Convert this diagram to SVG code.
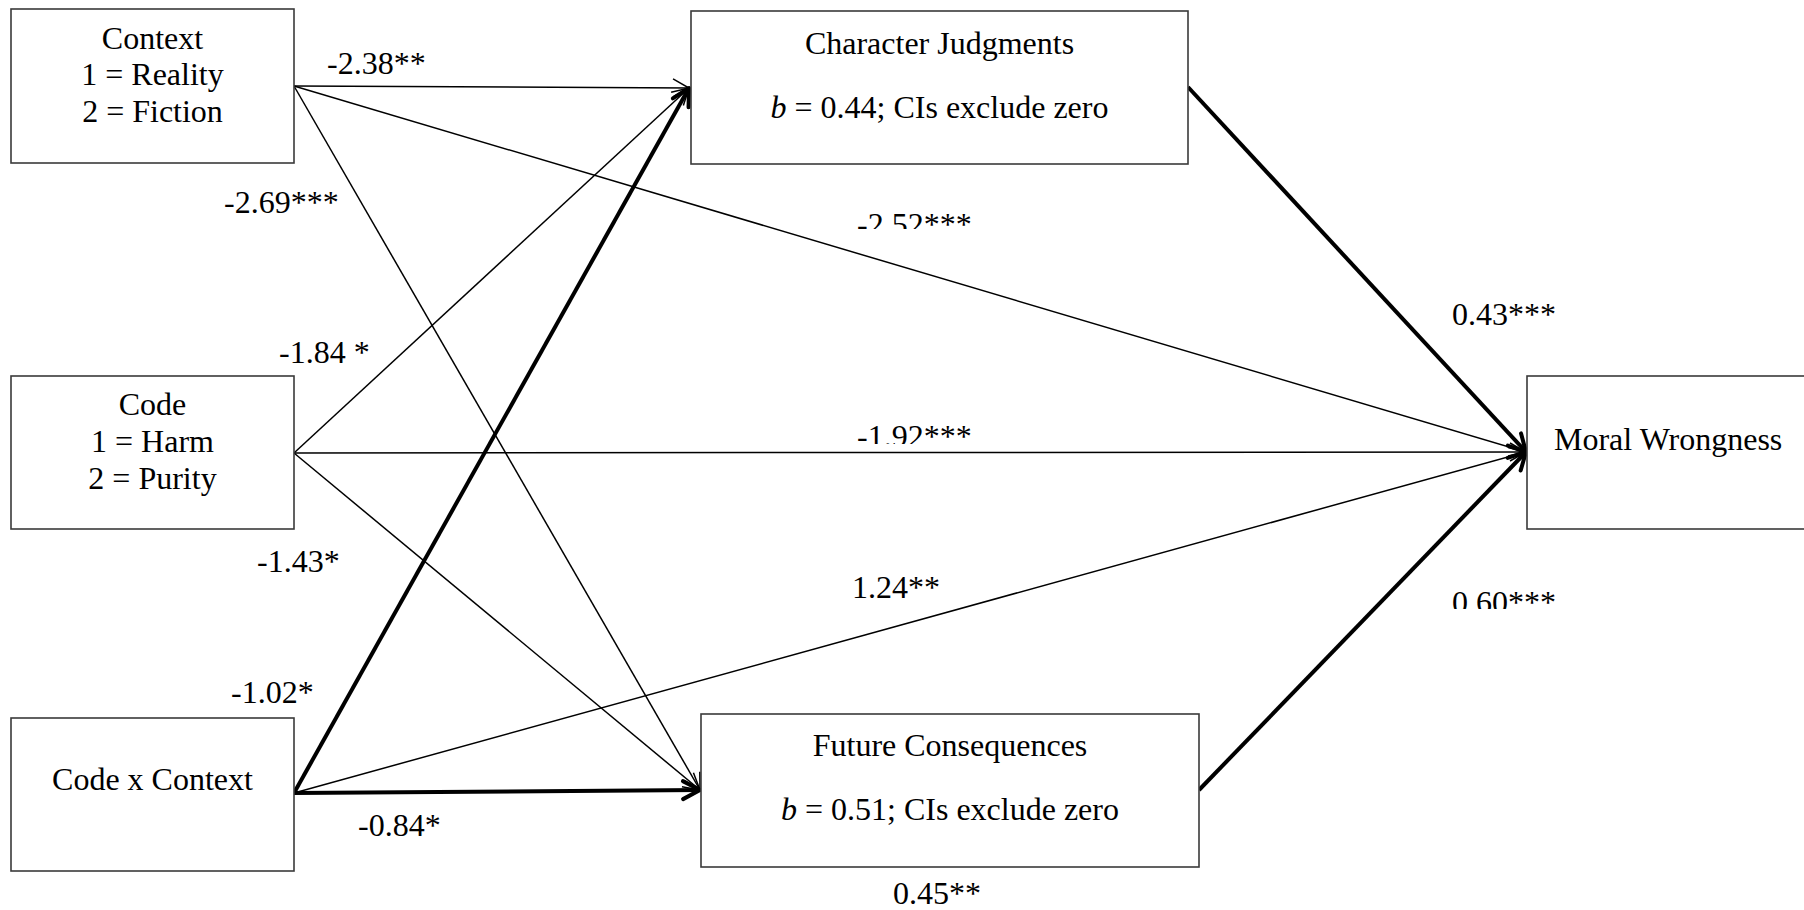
<svg xmlns="http://www.w3.org/2000/svg" width="1804" height="910" viewBox="0 0 1804 910">
  <style>
    .box { fill: #fff; stroke: #3a3a3a; stroke-width: 1.6; }
    .t { font-family: "Liberation Serif", "Times New Roman", serif; font-size: 32px; fill: #000; }
    .c { text-anchor: middle; }
    .thin { stroke: #000; stroke-width: 1.5; fill: none; }
    .thick { stroke: #000; stroke-width: 4; fill: none; }
  </style>
  <defs>
    <marker id="arrow-thin" viewBox="-20 -12 22 24" refX="0" refY="0" markerWidth="22" markerHeight="24" markerUnits="userSpaceOnUse" orient="auto">
      <path d="M-16,-9 L0,0 L-16,9" fill="none" stroke="#000" stroke-width="1.5"/>
    </marker>
    <marker id="arrow-thick" viewBox="-22 -13 25 26" refX="0" refY="0" markerWidth="25" markerHeight="26" markerUnits="userSpaceOnUse" orient="auto">
      <path d="M-17,-9 L0,0 L-17,9" fill="none" stroke="#000" stroke-width="4" stroke-linecap="round" stroke-linejoin="round"/>
    </marker>
    <!-- labels cut off by their text frames -->
    <clipPath id="clip-252"><rect x="840" y="195" width="160" height="34"/></clipPath>
    <clipPath id="clip-192"><rect x="840" y="410" width="160" height="34"/></clipPath>
    <clipPath id="clip-060"><rect x="1440" y="575" width="160" height="34"/></clipPath>
  </defs>

  <rect width="1804" height="910" fill="#fff"/>

  <!-- paths between variables -->
  <g id="connectors">
    <line class="thin" x1="294" y1="86" x2="689" y2="88" marker-end="url(#arrow-thin)"/>
    <line class="thin" x1="294" y1="86" x2="1526" y2="452" marker-end="url(#arrow-thin)"/>
    <line class="thin" x1="294" y1="86" x2="700" y2="790" marker-end="url(#arrow-thin)"/>
    <line class="thin" x1="294" y1="453" x2="689" y2="88" marker-end="url(#arrow-thin)"/>
    <line class="thin" x1="294" y1="453" x2="1526" y2="452" marker-end="url(#arrow-thin)"/>
    <line class="thin" x1="294" y1="453" x2="700" y2="790" marker-end="url(#arrow-thin)"/>
    <line class="thick" x1="294" y1="793" x2="689" y2="88" marker-end="url(#arrow-thick)"/>
    <line class="thin" x1="294" y1="793" x2="1526" y2="452" marker-end="url(#arrow-thin)"/>
    <line class="thick" x1="294" y1="793" x2="700" y2="790" marker-end="url(#arrow-thick)"/>
    <line class="thick" x1="1188" y1="87" x2="1526" y2="452" marker-end="url(#arrow-thick)"/>
    <line class="thick" x1="1199" y1="790" x2="1526" y2="452" marker-end="url(#arrow-thick)"/>
  </g>

  <g id="path-labels" class="t">
    <text x="327" y="74">-2.38**</text>
    <text x="224" y="213">-2.69***</text>
    <text x="857" y="235" clip-path="url(#clip-252)">-2.52***</text>
    <text x="1452" y="325">0.43***</text>
    <text x="279" y="363">-1.84 *</text>
    <text x="857" y="447" clip-path="url(#clip-192)">-1.92***</text>
    <text x="257" y="572">-1.43*</text>
    <text x="852" y="598">1.24**</text>
    <text x="1452" y="613" clip-path="url(#clip-060)">0.60***</text>
    <text x="231" y="703">-1.02*</text>
    <text x="358" y="836">-0.84*</text>
    <text x="893" y="904">0.45**</text>
  </g>

  <g id="context">
    <rect class="box" x="11" y="9" width="283" height="154"/>
    <text class="t c" x="152.5" y="49">Context</text>
    <text class="t c" x="152.5" y="85">1 = Reality</text>
    <text class="t c" x="152.5" y="122">2 = Fiction</text>
  </g>

  <g id="code">
    <rect class="box" x="11" y="376" width="283" height="153"/>
    <text class="t c" x="152.5" y="415">Code</text>
    <text class="t c" x="152.5" y="452">1 = Harm</text>
    <text class="t c" x="152.5" y="489">2 = Purity</text>
  </g>

  <g id="code-x-context">
    <rect class="box" x="11" y="718" width="283" height="153"/>
    <text class="t c" x="152.5" y="790">Code x Context</text>
  </g>

  <g id="character-judgments">
    <rect class="box" x="691" y="11" width="497" height="153"/>
    <text class="t c" x="939.5" y="54">Character Judgments</text>
    <text class="t c" x="939.5" y="118"><tspan font-style="italic">b</tspan> = 0.44; CIs exclude zero</text>
  </g>

  <g id="future-consequences">
    <rect class="box" x="701" y="714" width="498" height="153"/>
    <text class="t c" x="950" y="756">Future Consequences</text>
    <text class="t c" x="950" y="820"><tspan font-style="italic">b</tspan> = 0.51; CIs exclude zero</text>
  </g>

  <g id="moral-wrongness">
    <rect class="box" x="1527" y="376" width="290" height="153"/>
    <text class="t" x="1554" y="450">Moral Wrongness</text>
  </g>
</svg>
